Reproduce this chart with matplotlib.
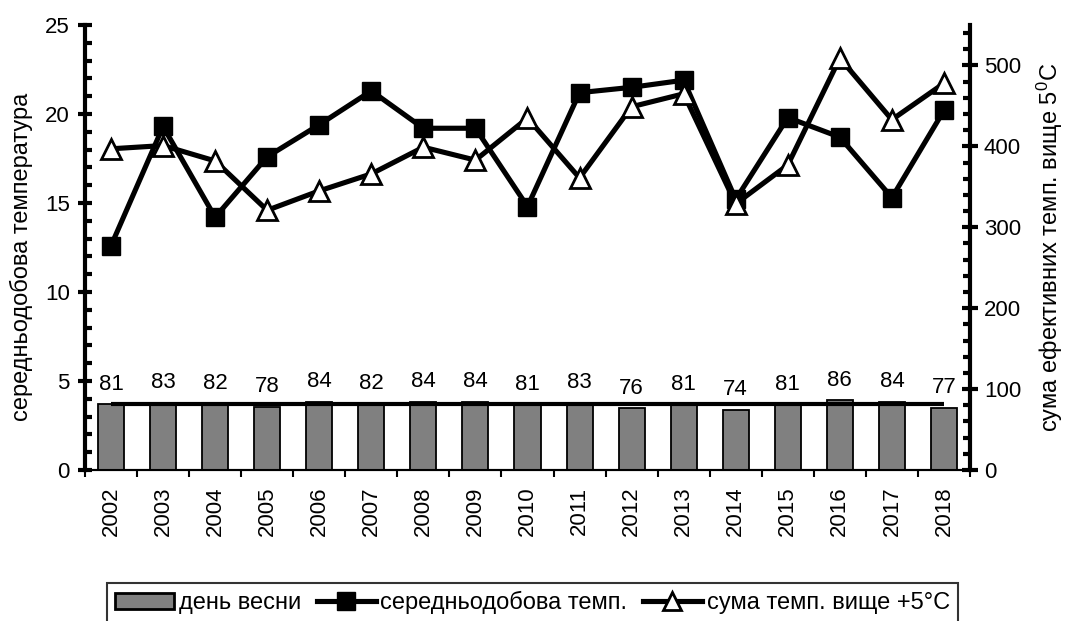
import numpy as np
import matplotlib
matplotlib.use('Agg')
from matplotlib import pyplot as plt
from matplotlib.ticker import MultipleLocator, FixedLocator
from matplotlib.lines import Line2D
from matplotlib.patches import Patch

plt.rcParams['font.family'] = ['Liberation Sans', 'DejaVu Sans']
plt.rcParams['mathtext.fontset'] = 'custom'
plt.rcParams['mathtext.rm'] = 'Liberation Sans'
plt.rcParams['mathtext.it'] = 'Liberation Sans'

years = [2002, 2003, 2004, 2005, 2006, 2007, 2008, 2009, 2010,
         2011, 2012, 2013, 2014, 2015, 2016, 2017, 2018]

# day of spring onset (bars, right axis)
spring_day = [81, 83, 82, 78, 84, 82, 84, 84, 81, 83, 76, 81, 74, 81, 86, 84, 77]

# mean daily temperature (left axis)
mean_temp = [12.6, 19.3, 14.2, 17.6, 19.4, 21.3, 19.2, 19.2, 14.8,
             21.2, 21.5, 21.9, 15.2, 19.8, 18.7, 15.3, 20.2]

# sum of effective temperatures above 5 C (right axis)
temp_sum = [397, 401, 382, 321, 345, 366, 399, 383, 435,
            361, 449, 465, 329, 377, 509, 433, 478]

FS = 16
FS_LAB = 17

fig = plt.figure(figsize=(10.65, 6.21), dpi=100)
ax = fig.add_axes([0.0798, 0.2432, 0.8310, 0.7165])
ax2 = ax.twinx()

x = np.arange(len(years))

# left axis: mean daily temperature
ax.plot(x, mean_temp, color='black', lw=3.7, marker='s', ms=13,
        mfc='black', mec='black', zorder=3)
ax.set_ylim(0, 25)
ax.set_xlim(-0.5, len(years) - 0.5)
ax.yaxis.set_major_locator(MultipleLocator(5))
ax.yaxis.set_minor_locator(MultipleLocator(1))
ax.set_ylabel('середньодобова температура', fontsize=FS_LAB)
ax.yaxis.set_label_coords(-0.059, 0.48)

# right axis: bars, mean line and temperature sum
ax2.bar(x, spring_day, width=0.5, color='#808080', edgecolor='black',
        lw=1.3, zorder=2)
ax2.plot([x[0], x[-1]], [np.mean(spring_day)] * 2, color='black', lw=3,
         solid_capstyle='butt', zorder=3)
for xi, v in zip(x, spring_day):
    ax2.annotate(str(v), (xi, v), xytext=(0, 7), textcoords='offset points',
                 ha='center', va='bottom', fontsize=FS)
ax2.plot(x, temp_sum, color='black', lw=3.7, marker='^', ms=15,
         mfc='white', mec='black', mew=2, zorder=4)
ax2.set_ylim(0, 550)
ax2.yaxis.set_major_locator(FixedLocator([0, 100, 200, 300, 400, 500]))
ax2.yaxis.set_minor_locator(MultipleLocator(20))
ax2.set_ylabel('сума ефективних темп. вище 5$^{\\mathrm{0}}$C',
               fontsize=FS_LAB, labelpad=10)

# category ticks: labels at centres, marks at the boundaries
ax.set_xticks(x)
ax.set_xticklabels([str(y) for y in years], rotation=90, fontsize=FS)
ax.xaxis.set_minor_locator(FixedLocator(np.arange(-0.5, len(years), 1.0)))
ax.tick_params(axis='x', which='major', length=0, pad=12)
ax.tick_params(axis='x', which='minor', direction='out', length=5, width=1.5)

ax.tick_params(axis='y', which='major', direction='inout', length=10, width=3,
               labelsize=FS, pad=6)
ax.tick_params(axis='y', which='minor', direction='in', length=5, width=3)
ax2.tick_params(axis='y', which='major', direction='inout', length=12, width=3,
                labelsize=FS, pad=4)
ax2.tick_params(axis='y', which='minor', direction='in', length=5, width=3)

for a in (ax, ax2):
    a.spines['top'].set_visible(False)
    a.spines['left'].set_linewidth(3)
    a.spines['right'].set_linewidth(3)
    a.spines['bottom'].set_linewidth(1.5)
ax2.spines['left'].set_visible(False)
ax.spines['right'].set_visible(False)

handles = [
    Patch(facecolor='#808080', edgecolor='black', lw=2),
    Line2D([], [], color='black', lw=3.7, marker='s', ms=13, mfc='black'),
    Line2D([], [], color='black', lw=3.7, marker='^', ms=13, mfc='white',
           mew=2),
]
labels = ['день весни', 'середньодобова темп.', 'сума темп. вище +5°C']
leg = fig.legend(handles, labels, loc='upper center', ncol=3,
                 bbox_to_anchor=(0.500, 0.0612), fontsize=FS_LAB,
                 frameon=True, fancybox=False, edgecolor='black',
                 handlelength=2.5, handleheight=0.7, handletextpad=0.2,
                 columnspacing=0.65, borderpad=0.35, borderaxespad=0)
leg.get_frame().set_linewidth(1.5)

fig.savefig('out.png', dpi=100)
